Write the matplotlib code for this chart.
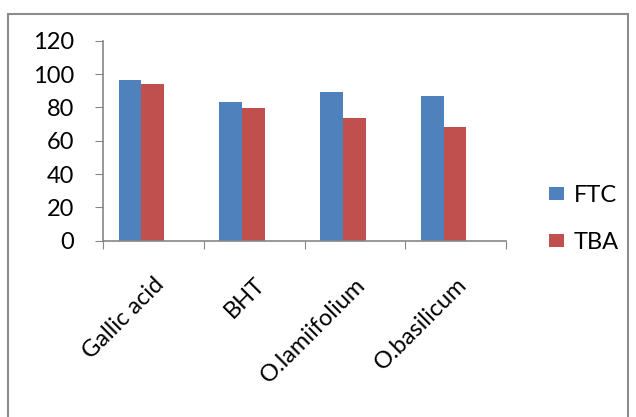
import numpy as np
import matplotlib.pyplot as plt
from matplotlib.patches import Rectangle

categories = ["Gallic acid", "BHT", "O.lamiifolium", "O.basilicum"]
ftc = [96.5, 83, 89, 87]
tba = [94, 79.5, 73.5, 68.5]

plt.rcParams["font.family"] = ["Lato", "DejaVu Sans"]

fig = plt.figure(figsize=(6.36, 4.17), dpi=100)
ax = fig.add_axes([0.162, 0.4228, 0.634, 0.4796])

x = np.arange(len(categories))
w = 0.225
shift = -0.12  # bars sit a bit left of the category centre
ax.bar(x + shift - w / 2, ftc, w, color="#4f81bd", label="FTC")
ax.bar(x + shift + w / 2, tba, w, color="#c0504d", label="TBA")

ax.set_xlim(-0.5, len(categories) - 0.5)
ax.set_ylim(0, 120)
ax.set_yticks(range(0, 121, 20))
ax.tick_params(axis="y", labelsize=17, length=6, color="#868686", pad=15)

ax.set_xticks(np.arange(-0.5, len(categories), 1.0))
ax.set_xticklabels([])
ax.set_xticks(x, minor=True)
ax.set_xticklabels(categories, minor=True, rotation=45, ha="right",
                   rotation_mode="anchor", fontsize=17)
ax.tick_params(axis="x", which="major", length=6, color="#868686")
ax.tick_params(axis="x", which="minor", length=0, pad=24)

for s in ["top", "right"]:
    ax.spines[s].set_visible(False)
for s in ["left", "bottom"]:
    ax.spines[s].set_color("#868686")
    ax.spines[s].set_linewidth(1.2)

leg = ax.legend(loc="center left", bbox_to_anchor=(1.107, 0.11), frameon=False,
                fontsize=17, handlelength=0.6, handleheight=0.5,
                handletextpad=0.42, labelspacing=1.1, borderpad=0,
                borderaxespad=0)

fig.patches.append(Rectangle((8 / 636, -0.1), 620 / 636, 1.1 - 14 / 417,
                             transform=fig.transFigure, fill=False,
                             edgecolor="#8c8c8c", linewidth=1.5))

fig.savefig("out.png", dpi=100)
